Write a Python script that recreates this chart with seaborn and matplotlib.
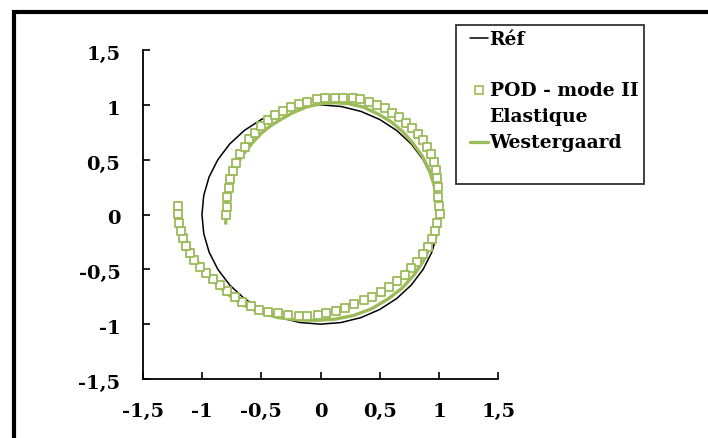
import matplotlib.pyplot as plt
import matplotlib.transforms as mtransforms
import seaborn as sns
import pandas as pd
from matplotlib.lines import Line2D
from matplotlib.legend_handler import HandlerLine2D
from matplotlib.patches import Rectangle

# reference circle (unit radius), read every 10 degrees
ref_x = [1.000, 0.985, 0.940, 0.866, 0.766, 0.643, 0.500, 0.342, 0.174, 0.000,
         -0.174, -0.342, -0.500, -0.643, -0.766, -0.866, -0.940, -0.985, -1.000,
         -0.985, -0.940, -0.866, -0.766, -0.643, -0.500, -0.342, -0.174, 0.000,
         0.174, 0.342, 0.500, 0.643, 0.766, 0.866, 0.940, 0.985, 1.000]
ref_y = [0.000, 0.174, 0.342, 0.500, 0.643, 0.766, 0.866, 0.940, 0.985, 1.000,
         0.985, 0.940, 0.866, 0.766, 0.643, 0.500, 0.342, 0.174, 0.000,
         -0.174, -0.342, -0.500, -0.643, -0.766, -0.866, -0.940, -0.985, -1.000,
         -0.985, -0.940, -0.866, -0.766, -0.643, -0.500, -0.342, -0.174, 0.000]

# POD - mode II Elastique (squares)
pod_x = [-0.80, -0.79, -0.785, -0.774, -0.762, -0.74, -0.71, -0.68, -0.64, -0.60,
         -0.55, -0.50, -0.44, -0.38, -0.32, -0.25, -0.18, -0.11, -0.03, 0.04,
         0.12, 0.19, 0.27, 0.335, 0.405, 0.475, 0.54, 0.605, 0.66, 0.72,
         0.775, 0.825, 0.865, 0.90, 0.935, 0.955, 0.976, 0.98, 0.99, 0.993,
         0.998, 1.004, 0.98, 0.965, 0.94, 0.91, 0.865, 0.81, 0.765, 0.71,
         0.647, 0.58, 0.51, 0.436, 0.363, 0.28, 0.21, 0.13, 0.05, -0.02,
         -0.11, -0.18, -0.27, -0.36, -0.445, -0.52, -0.59, -0.66, -0.725, -0.79,
         -0.85, -0.91, -0.965, -1.015, -1.063, -1.10, -1.133, -1.16, -1.18, -1.196,
         -1.20, -1.20]
pod_y = [-0.005, 0.07, 0.157, 0.239, 0.32, 0.40, 0.47, 0.55, 0.62, 0.685,
         0.745, 0.81, 0.86, 0.91, 0.946, 0.977, 1.007, 1.03, 1.05, 1.065,
         1.065, 1.065, 1.065, 1.05, 1.025, 1.0, 0.97, 0.93, 0.886, 0.837,
         0.786, 0.734, 0.68, 0.62, 0.55, 0.48, 0.405, 0.33, 0.248, 0.162,
         0.077, 0.005, -0.075, -0.148, -0.226, -0.293, -0.36, -0.43, -0.49, -0.55,
         -0.61, -0.665, -0.71, -0.75, -0.78, -0.815, -0.855, -0.877, -0.90, -0.92,
         -0.925, -0.925, -0.92, -0.90, -0.89, -0.87, -0.834, -0.795, -0.75, -0.695,
         -0.643, -0.59, -0.536, -0.476, -0.415, -0.348, -0.284, -0.217, -0.148, -0.075,
         0.005, 0.077]

# Westergaard (line)
west_x = [-0.80, -0.79, -0.78, -0.77, -0.75, -0.72, -0.68, -0.63, -0.57, -0.50,
          -0.42, -0.33, -0.23, -0.12, 0.00, 0.12, 0.24, 0.36, 0.48, 0.59,
          0.69, 0.78, 0.86, 0.92, 0.96, 0.98, 0.99, 0.97, 0.93, 0.87,
          0.79, 0.69, 0.57, 0.43, 0.28, 0.12, -0.04, -0.20, -0.36, -0.52,
          -0.66, -0.79, -0.90, -1.00, -1.08, -1.14, -1.18, -1.20, -1.20]
west_y = [-0.08, 0.07, 0.16, 0.24, 0.32, 0.41, 0.50, 0.58, 0.66, 0.74,
          0.81, 0.87, 0.93, 0.98, 1.01, 1.02, 1.01, 0.98, 0.92, 0.85,
          0.76, 0.65, 0.53, 0.40, 0.26, 0.12, 0.00, -0.14, -0.28, -0.42,
          -0.55, -0.67, -0.77, -0.86, -0.92, -0.955, -0.965, -0.96, -0.94, -0.89,
          -0.82, -0.72, -0.61, -0.49, -0.36, -0.23, -0.10, 0.02, 0.08]

ticks = [-1.5, -1, -0.5, 0, 0.5, 1, 1.5]
tick_labels = ['-1,5', '-1', '-0,5', '0', '0,5', '1', '1,5']

green = '#9BBB59'

sns.set_theme(style='white')
plt.rcParams['font.family'] = ['DejaVu Serif']
plt.rcParams['font.weight'] = 'bold'
plt.rcParams['text.color'] = 'black'
plt.rcParams['xtick.color'] = 'black'
plt.rcParams['ytick.color'] = 'black'

fig = plt.figure(figsize=(7.08, 4.38), dpi=100)
ax = fig.add_axes([142.7 / 708, 59 / 438, 355.6 / 708, 329 / 438])

ref = pd.DataFrame({'x': ref_x, 'y': ref_y})
west = pd.DataFrame({'x': west_x, 'y': west_y})
pod = pd.DataFrame({'x': pod_x, 'y': pod_y})

sns.lineplot(data=ref, x='x', y='y', sort=False, estimator=None, ax=ax,
             color='black', linewidth=1.1, zorder=2)
sns.lineplot(data=west, x='x', y='y', sort=False, estimator=None, ax=ax,
             color=green, linewidth=2.4, zorder=3)
sns.scatterplot(data=pod, x='x', y='y', ax=ax, marker='s', s=36,
                facecolor='white', edgecolor=green, linewidth=1.3, zorder=4)

ax.set_xlim(-1.5, 1.5)
ax.set_ylim(-1.5, 1.5)
ax.set_xticks(ticks)
ax.set_xticklabels(tick_labels)
ax.set_yticks(ticks)
ax.set_yticklabels(tick_labels)
ax.set_xlabel('')
ax.set_ylabel('')
for s in ['top', 'right']:
  ax.spines[s].set_visible(False)
for s in ['left', 'bottom']:
  ax.spines[s].set_color('black')
  ax.spines[s].set_linewidth(1.3)
ax.tick_params(direction='in', length=5, width=1.2, color='black',
               labelcolor='black', labelsize=14, pad=17, bottom=True, left=True)
ax.tick_params(axis='y', pad=16)

# y labels sit a little below their ticks
shift = mtransforms.ScaledTranslation(0, -3 / 100, fig.dpi_scale_trans)
for lbl in ax.get_yticklabels():
  lbl.set_transform(lbl.get_transform() + shift)

blank = Line2D([], [], linestyle='none')
handles = [
  Line2D([], [], color='black', linewidth=1.1),
  blank,
  Line2D([], [], linestyle='none', marker='s', markersize=6,
         markerfacecolor='white', markeredgecolor=green, markeredgewidth=1.2),
  blank,
  Line2D([], [], color=green, linewidth=2.4),
  blank,
]
labels = ['Réf', ' ', 'POD - mode II', 'Elastique', 'Westergaard', ' ']
leg = ax.legend(handles, labels, loc='upper left',
                bbox_to_anchor=(456 / 708, 1 - 25 / 438),
                bbox_transform=fig.transFigure, borderaxespad=0,
                frameon=True, fancybox=False, edgecolor='black',
                fontsize=13.5, handlelength=1.39, handletextpad=0.1,
                labelspacing=0.42, borderpad=0.3, labelcolor='black',
                handler_map={Line2D: HandlerLine2D(xpad=0.43)})
leg.get_frame().set_linewidth(1.3)

fig.patches.append(Rectangle((14 / 708, -0.1), 1.2, (438 - 12) / 438 + 0.1,
                             transform=fig.transFigure, fill=False,
                             edgecolor='black', linewidth=3, zorder=10))

fig.savefig('out.png', dpi=100)
